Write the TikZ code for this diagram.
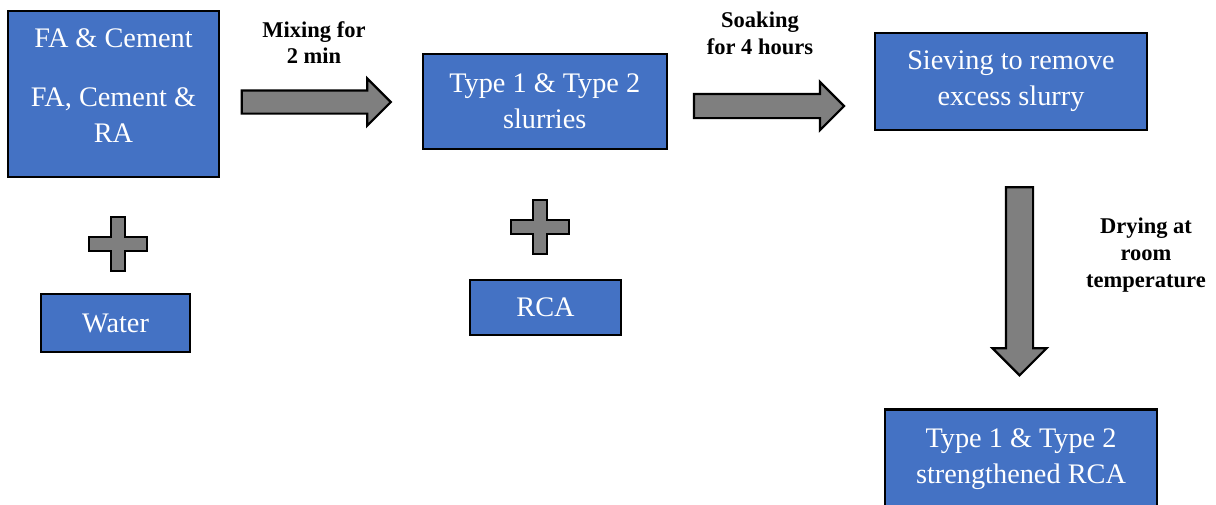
\documentclass[tikz,border=0pt]{standalone}
\usepackage{fontspec}
\setmainfont{Liberation Serif}
\usetikzlibrary{shapes.arrows}
\definecolor{boxblue}{HTML}{4472C4}
\definecolor{arrowgray}{HTML}{7F7F7F}

\begin{document}
\begin{tikzpicture}[x=1pt, y=-1pt,
  procbox/.style={draw=black, line width=2.5pt, fill=boxblue, text=white, align=center, inner sep=0pt, font=\fontsize{28.3}{36}\selectfont},
  boxtext/.style={text=white, align=center, inner sep=0pt, font=\fontsize{28.3}{36}\selectfont},
  steplabel/.style={align=center, inner sep=0pt, font=\bfseries\fontsize{22.5}{27}\selectfont},
  blockarrow/.style={single arrow, draw=black, line width=2.2pt, fill=arrowgray, inner xsep=0pt, single arrow tip angle=90},
  plusmark/.style={draw=black, line width=2.2pt, fill=arrowgray}]

\clip (0,0) rectangle (1216,504);

% Left column: mixture and water
\node[procbox, minimum width=211, minimum height=166] (mix) at (113.5,94) {};
\node[boxtext] (mixtext) at (113.5,86) {FA \& Cement\\[23pt]FA, Cement \&\\RA};
\node[procbox, minimum width=149, minimum height=58] (water) at (115.5,323) {Water};

% Middle column
\node[procbox, minimum width=244, minimum height=95] (slurry) at (544.75,101.5) {Type 1 \& Type 2\\slurries};
\node[procbox, minimum width=151, minimum height=55] (rca) at (545.5,307.5) {RCA};

% Right column
\node[procbox, minimum width=272, minimum height=102, anchor=north] (final) at (1021,408.3) {};
\node[procbox, minimum width=272, minimum height=97] (sieve) at (1011,81.5) {Sieving to remove\\excess slurry};
\node[boxtext] (finaltext) at (1021,459) {Type 1 \& Type 2\\strengthened RCA};

% Block arrows
\node[blockarrow, minimum height=149, inner ysep=10.5pt, single arrow head extend=12pt] (mixarrow) at (310.5,102) {};
\node[blockarrow, minimum height=150, inner ysep=11pt, single arrow head extend=12pt] (soakarrow) at (763,106) {};
\node[blockarrow, minimum height=188, inner ysep=12.5pt, single arrow head extend=13.5pt, rotate=-90] (dryarrow) at (1019.5,274.5) {};

% Step labels
\node[steplabel] (mixlabel) at (314,43) {Mixing for\\[-1pt]2 min};
\node[steplabel] (soaklabel) at (760,33) {Soaking\\for 4 hours};
\node[steplabel] (drylabel) at (1146,255.5) {Drying at\\room\\temperature};

% Plus signs
\foreach \px/\py in {118/244, 540/227}
  \draw[plusmark, shift={(\px,\py)}] (-7,-27) -- (7,-27) -- (7,-7) -- (29,-7) -- (29,7) -- (7,7) -- (7,27) -- (-7,27) -- (-7,7) -- (-29,7) -- (-29,-7) -- (-7,-7) -- cycle;

\end{tikzpicture}
\end{document}
